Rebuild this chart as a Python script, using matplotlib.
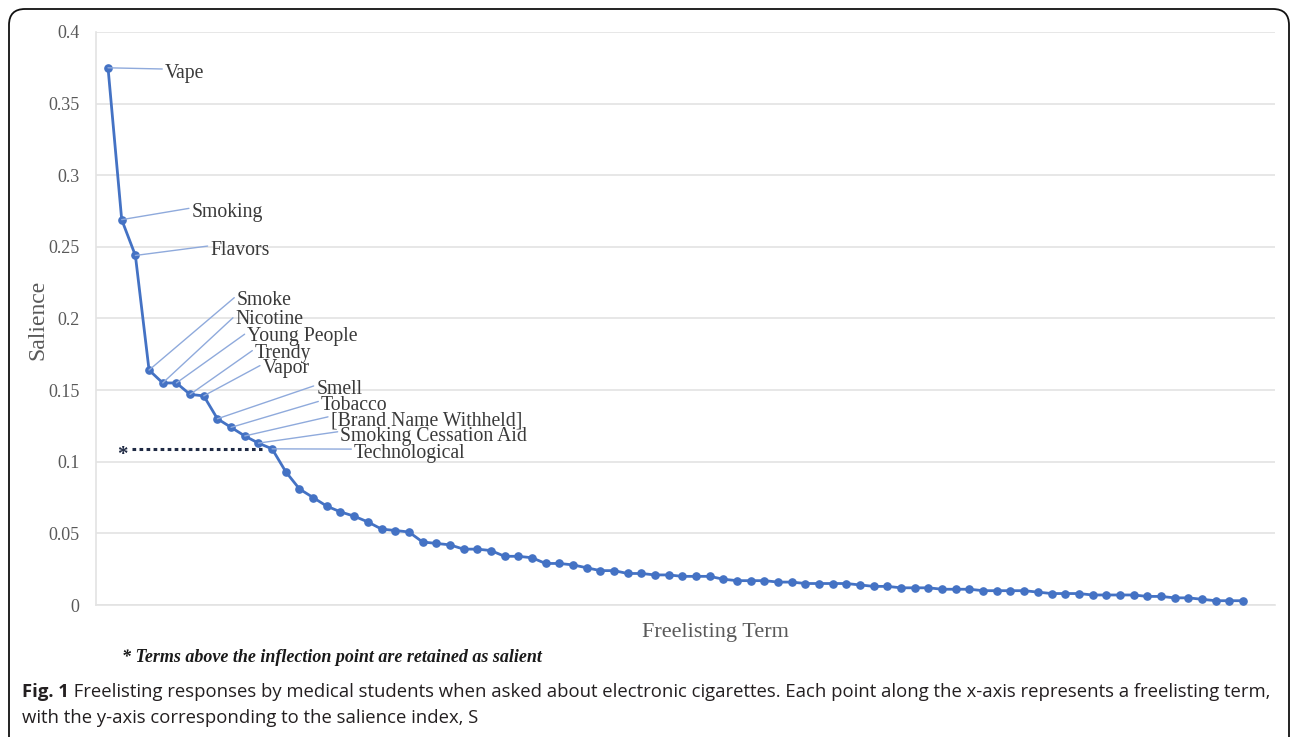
import numpy as np
import matplotlib.pyplot as plt
from matplotlib.patches import FancyBboxPatch
from matplotlib.transforms import IdentityTransform

# salience index of each freelisting term, in rank order
salience = [0.375, 0.269, 0.244, 0.164, 0.155, 0.155, 0.147, 0.146, 0.130, 0.124,
            0.118, 0.113, 0.109, 0.093, 0.081, 0.075, 0.069, 0.065, 0.062, 0.058,
            0.053, 0.052, 0.051, 0.044, 0.043, 0.042, 0.039, 0.039, 0.038, 0.034,
            0.034, 0.033, 0.029, 0.029, 0.028, 0.026, 0.024, 0.024, 0.022, 0.022,
            0.021, 0.021, 0.020, 0.020, 0.020, 0.018, 0.017, 0.017, 0.017, 0.016,
            0.016, 0.015, 0.015, 0.015, 0.015, 0.014, 0.013, 0.013, 0.012, 0.012,
            0.012, 0.011, 0.011, 0.011, 0.010, 0.010, 0.010, 0.010, 0.009, 0.008,
            0.008, 0.008, 0.007, 0.007, 0.007, 0.007, 0.006, 0.006, 0.005, 0.005,
            0.004, 0.003, 0.003, 0.003]

# the salient terms (labelled points), in the same order
terms = ['Vape', 'Smoking', 'Flavors', 'Smoke', 'Nicotine', 'Young People', 'Trendy',
         'Vapor', 'Smell', 'Tobacco', '[Brand Name Withheld]',
         'Smoking Cessation Aid', 'Technological']
inflection = 12

yticks = [0, 0.05, 0.1, 0.15, 0.2, 0.25, 0.3, 0.35, 0.4]
ytick_labels = ['0', '0.05', '0.1', '0.15', '0.2', '0.25', '0.3', '0.35', '0.4']

# label offsets in pixels (text left edge / centre, from the point)
label_offsets = [(57, -6), (70, 7), (75, 5), (88, 70), (73, 63), (71, 46), (65, 41),
                 (59, 27), (99, 29), (90, 22), (86, 15), (82, 7), (82, -5)]

serif = ['Liberation Serif', 'DejaVu Serif']
blue = '#4472C4'
leader = '#8FAADC'
grey = '#595959'

fig = plt.figure(figsize=(12.92, 7.37), dpi=100)
ax = fig.add_axes([0.0743, 0.1791, 0.9125, 0.7775])

x = np.arange(len(salience))
ax.plot(x, salience, '-o', color=blue, lw=2.0, ms=5.2, zorder=3)

for i, t in enumerate(terms):
    ax.annotate(t, xy=(x[i], salience[i]), xytext=label_offsets[i],
                textcoords='offset pixels', ha='left', va='center',
                fontsize=14.2, family=serif, color='#3a3a3a',
                arrowprops=dict(arrowstyle='-', color=leader, lw=1.0,
                                shrinkA=0, shrinkB=0, relpos=(0, 0.75)))

# inflection point marker
ax.plot([1.75, inflection - 0.75], [salience[inflection]] * 2,
        color='#1f2a44', lw=2.2, ls=(0, (1.2, 1.1)), dash_capstyle='butt')
ax.annotate('*', xy=(1.75, salience[inflection]), xytext=(-10, -6),
            textcoords='offset pixels', ha='center', va='center',
            fontsize=15, family=serif, fontweight='bold', color='#1f2a44')

ax.set_xlim(-0.88, 85.34)
ax.set_ylim(0, 0.4)
ax.set_yticks(yticks)
ax.set_yticklabels(ytick_labels, family=serif, fontsize=13, color=grey)
ax.set_xticks([])
ax.tick_params(axis='y', length=0, pad=12)
ax.grid(axis='y', color='#e3e3e3', lw=1.2)
ax.set_axisbelow(True)
for s in ['top', 'right']:
    ax.spines[s].set_visible(False)
ax.spines['left'].set_color('#e3e3e3')
ax.spines['bottom'].set_color('#e3e3e3')
ax.spines['left'].set_linewidth(1.2)
ax.spines['bottom'].set_linewidth(1.2)

fig.text(38 / 1292, 1 - 320 / 737, 'Salience', rotation=90, ha='center', va='center',
         family=serif, fontsize=17, color=grey)
fig.text(715 / 1292, 1 - 632 / 737, 'Freelisting Term', ha='center', va='center',
         family=serif, fontsize=16, color=grey)
fig.text(122 / 1292, 1 - 657 / 737, '* Terms above the inflection point are retained as salient',
         ha='left', va='center', family=serif, fontsize=13, fontweight='bold',
         style='italic', color='#1a1a1a')

cap_font = ['Open Sans', 'DejaVu Sans']
t1 = fig.text(22 / 1292, 1 - 692 / 737, 'Fig. 1', ha='left', va='center',
              family=cap_font, fontsize=13.3, fontweight='bold', color='#231f20')
ax.annotate(' Freelisting responses by medical students when asked about electronic cigarettes. '
            'Each point along the x-axis represents a freelisting term,',
            xy=(1, 0.5), xycoords=t1, ha='left', va='center', annotation_clip=False,
            family=cap_font, fontsize=13.3, color='#231f20')
fig.text(22 / 1292, 1 - 718 / 737, 'with the y-axis corresponding to the salience index, S',
         ha='left', va='center', family=cap_font, fontsize=13.3, color='#231f20')

# rounded frame around the figure
frame = FancyBboxPatch((9, -30), 1280, 758, boxstyle='round,pad=0,rounding_size=16',
                       fill=False, ec='#111111', lw=1.3, transform=IdentityTransform())
fig.add_artist(frame)
frame.set_transform(IdentityTransform())

fig.savefig('out.png', dpi=100)
